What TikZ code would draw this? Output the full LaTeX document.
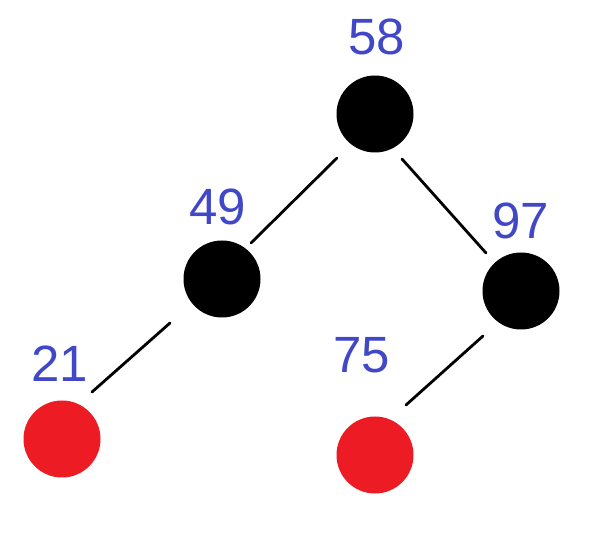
\documentclass[tikz,border=0pt]{standalone}
\usepackage{fontspec}
\setmainfont{Liberation Sans}
\usetikzlibrary{positioning, calc}
\definecolor{keyblue}{RGB}{64,72,200}
\definecolor{nodered}{RGB}{237,28,36}

\begin{document}
\begin{tikzpicture}[
      x=1pt, y=-1pt,
      every node/.append style={font=\fontsize{51}{51}\selectfont},
      vertex/.style={circle, minimum size=77pt, inner sep=0pt, fill=black},
      bnode/.style={vertex, fill=black},
      rnode/.style={vertex, fill=nodered},
      key/.style={text=keyblue, inner sep=0pt},
      edge/.style={line width=2.8pt, line cap=round},
    ]
      \useasboundingbox (0,0) rectangle (600,534);
      \node[bnode] (n58) at (375,114) {};
      \node[bnode] (n49) at (222,279) {};
      \node[bnode] (n97) at (521,291) {};
      \node[rnode] (n21) at (62,439) {};
      \node[rnode] (n75) at (375,455) {};

      \node[key] (k58) at (377,37) {58};
      \node[key] (k49) at (218,207) {49};
      \node[key] (k97) at (521,221) {97};
      \node[key] (k21) at (60,364) {21};
      \node[key] (k75) at (362,355) {75};

      % edges stop short of the circles
      \draw[edge] ($(n58)+(-38,44)$) -- ($(n49)+(29,-36)$);
      \draw[edge] ($(n58)+(27,45)$) -- ($(n97)+(-35,-38)$);
      \draw[edge] ($(n49)+(-52,44)$) -- ($(n21)+(30,-47)$);
      \draw[edge] ($(n97)+(-38,45)$) -- ($(n75)+(31,-50)$);
    \end{tikzpicture}
\end{document}
